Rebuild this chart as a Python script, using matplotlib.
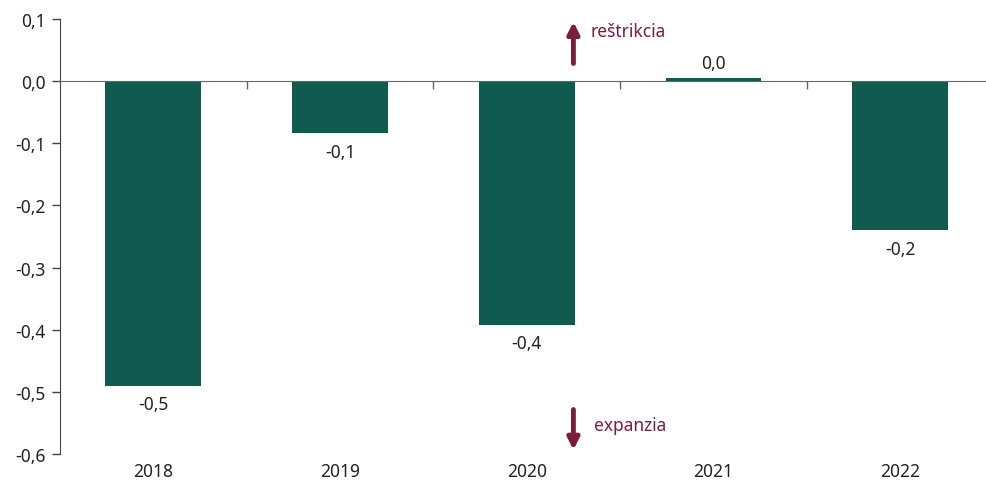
import matplotlib
matplotlib.use('Agg')
import matplotlib.pyplot as plt
import numpy as np

plt.rcParams['font.family'] = ['Noto Sans', 'DejaVu Sans']

# rok a hodnota
roky = ['2018', '2019', '2020', '2021', '2022']
hodnoty = [-0.49, -0.084, -0.392, 0.005, -0.24]
y_ticky = [0.1, 0.0, -0.1, -0.2, -0.3, -0.4, -0.5, -0.6]

farba_stlpec = '#115a4f'
farba_sipka = '#7a1d3f'
farba_text = '#222222'
fs = 12.5

def ciarka(v):
    return ('%.1f' % v).replace('.', ',').replace('-0,0', '0,0')

fig = plt.figure(figsize=(9.86, 4.89), dpi=100)
ax = fig.add_axes([60/986, 34/489, 926/986, 435/489])

x = np.arange(len(roky))
ax.bar(x, hodnoty, width=0.513, color=farba_stlpec, zorder=2)

for xi, v in zip(x, hodnoty):
    if v < 0:
        ax.annotate(ciarka(v), (xi, v), xytext=(0, -7), textcoords='offset points',
                    ha='center', va='top', fontsize=fs, color=farba_text)
    else:
        ax.annotate(ciarka(v), (xi, v), xytext=(0, 4), textcoords='offset points',
                    ha='center', va='bottom', fontsize=fs, color=farba_text)

ax.set_xlim(-0.5, 4.5 - 7.5/187)
ax.set_ylim(-0.6, 0.1)

ax.set_yticks(y_ticky)
ax.set_yticklabels([ciarka(v) for v in y_ticky], fontsize=fs, color=farba_text)
ax.tick_params(axis='y', direction='out', length=6, width=1, color='#444444', pad=4)

# os x na nule, ciarky medzi rokmi
ax.spines['bottom'].set_position(('data', 0))
ax.spines['bottom'].set_color('#666666')
ax.spines['bottom'].set_zorder(3)
ax.spines['left'].set_color('#444444')
ax.spines['top'].set_visible(False)
ax.spines['right'].set_visible(False)
ax.set_xticks(x[:-1] + 0.5)
ax.set_xticklabels([])
ax.tick_params(axis='x', direction='out', length=6, width=1, color='#666666')

for xi, r in zip(x, roky):
    ax.text(xi, -0.018, r, transform=ax.get_xaxis_transform(), ha='center', va='top',
            fontsize=fs, color=farba_text)

# sipky restrikcia / expanzia
ax.annotate('', xy=(2.25, 0.1), xytext=(2.25, 0.024),
            arrowprops=dict(arrowstyle='-|>', color=farba_sipka, lw=3.5, mutation_scale=17))
ax.text(2.34, 0.08, 'reštrikcia', ha='left', va='center', fontsize=fs, color=farba_sipka)
ax.annotate('', xy=(2.25, -0.598), xytext=(2.25, -0.524),
            arrowprops=dict(arrowstyle='-|>', color=farba_sipka, lw=3.5, mutation_scale=17))
ax.text(2.36, -0.553, 'expanzia', ha='left', va='center', fontsize=fs, color=farba_sipka)

fig.savefig('out.png', dpi=100)
